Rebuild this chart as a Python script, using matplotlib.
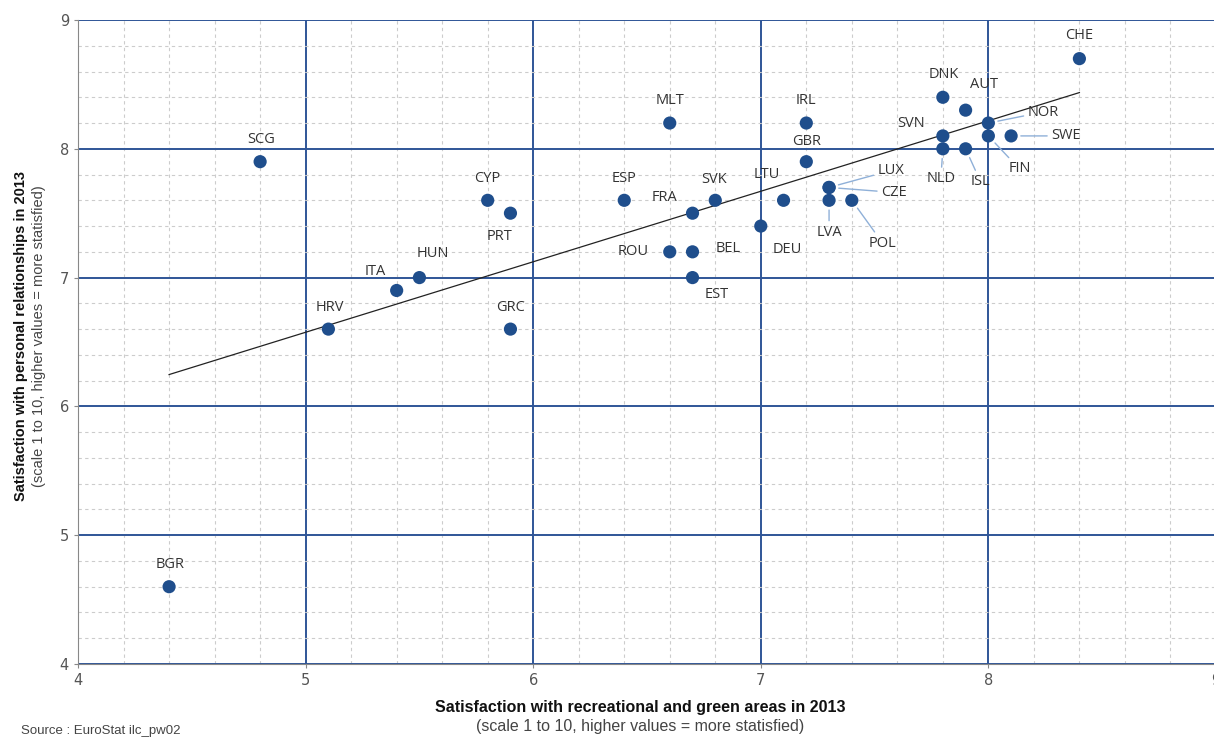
import matplotlib.pyplot as plt
import numpy as np

# satisfaction scores 2013 (recreational/green areas, personal relationships)
countries = ['CHE', 'DNK', 'AUT', 'NOR', 'SVN', 'FIN', 'SWE', 'NLD', 'ISL',
             'MLT', 'IRL', 'GBR', 'SCG', 'CYP', 'PRT', 'ESP', 'FRA', 'SVK',
             'LTU', 'LUX', 'CZE', 'LVA', 'POL', 'DEU', 'ROU', 'BEL', 'EST',
             'HUN', 'ITA', 'HRV', 'GRC', 'BGR']
green = [8.4, 7.8, 7.9, 8.0, 7.8, 8.0, 8.1, 7.8, 7.9,
         6.6, 7.2, 7.2, 4.8, 5.8, 5.9, 6.4, 6.7, 6.8,
         7.1, 7.3, 7.3, 7.3, 7.4, 7.0, 6.6, 6.7, 6.7,
         5.5, 5.4, 5.1, 5.9, 4.4]
relations = [8.7, 8.4, 8.3, 8.2, 8.1, 8.1, 8.1, 8.0, 8.0,
             8.2, 8.2, 7.9, 7.9, 7.6, 7.5, 7.6, 7.5, 7.6,
             7.6, 7.7, 7.7, 7.6, 7.6, 7.4, 7.2, 7.2, 7.0,
             7.0, 6.9, 6.6, 6.6, 4.6]

# label offsets in pixels (dx, dy), and whether a leader line is drawn
offsets = {
    'CHE': (0, 23), 'DNK': (1, 23), 'AUT': (18, 26), 'NOR': (55, 11),
    'SVN': (-32, 12), 'FIN': (31, -33), 'SWE': (55, 0), 'NLD': (-2, -30),
    'ISL': (15, -33), 'MLT': (0, 23), 'IRL': (0, 23), 'GBR': (0, 20),
    'SCG': (1, 22), 'CYP': (0, 22), 'PRT': (-11, -23), 'ESP': (0, 22),
    'FRA': (-28, 16), 'SVK': (-1, 21), 'LTU': (-17, 26), 'LUX': (62, 17),
    'CZE': (65, -5), 'LVA': (0, -32), 'POL': (31, -43), 'DEU': (27, -23),
    'ROU': (-37, 0), 'BEL': (36, 3), 'EST': (24, -17), 'HUN': (13, 24),
    'ITA': (-21, 19), 'HRV': (1, 22), 'GRC': (0, 22), 'BGR': (1, 22),
}
leaders = ['NOR', 'FIN', 'SWE', 'NLD', 'ISL', 'LUX', 'CZE', 'LVA', 'POL']

navy = '#1f4e8c'
grid_blue = '#2f5597'
text_c = '#333333'
font = ['Open Sans', 'DejaVu Sans']
narrow = ['Liberation Sans Narrow', 'Liberation Sans', 'DejaVu Sans']

fig = plt.figure(figsize=(12.14, 7.38), dpi=100)
ax = fig.add_axes([0.0643, 0.1003, 0.9373, 0.8726])

ax.set_xlim(4, 9)
ax.set_ylim(4, 9)
ax.set_xticks(np.arange(4, 10, 1))
ax.set_yticks(np.arange(4, 10, 1))
ax.set_xticks(np.arange(4, 9.01, 0.2), minor=True)
ax.set_yticks(np.arange(4, 9.01, 0.2), minor=True)
ax.grid(which='minor', color='#cccccc', linestyle=(0, (3, 3)), linewidth=0.8)
ax.grid(which='major', color=grid_blue, linestyle='-', linewidth=1.4)
ax.set_axisbelow(True)
ax.tick_params(which='minor', length=0)
ax.tick_params(which='major', length=3, color='#888888', labelcolor='#555555',
               labelsize=10.5)
for s in ['left', 'bottom']:
    ax.spines[s].set_color('#888888')
for s in ['top', 'right']:
    ax.spines[s].set_visible(False)

# trend line
k, b = np.polyfit(green, relations, 1)
xs = np.array([min(green), max(green)])
ax.plot(xs, k * xs + b, color='#222222', linewidth=0.9, zorder=2)

ax.scatter(green, relations, s=90, color=navy, zorder=3, edgecolors='none')

for c, x, y in zip(countries, green, relations):
    dx, dy = offsets[c]
    if c in leaders:
        ax.annotate(c, (x, y), xytext=(dx, dy), textcoords='offset pixels',
                    ha='center', va='center', fontsize=10.5, color=text_c,
                    family=font,
                    arrowprops=dict(arrowstyle='-', color='#8fb0d8', lw=1.0,
                                    shrinkA=1, shrinkB=7))
    else:
        ax.annotate(c, (x, y), xytext=(dx, dy), textcoords='offset pixels',
                    ha='center', va='center', fontsize=10.5, color=text_c,
                    family=font)

fig.text(0.527, 0.041, 'Satisfaction with recreational and green areas in 2013',
         ha='center', va='center', fontsize=11.5, fontweight='bold',
         color='#111111', family=narrow)
fig.text(0.527, 0.015, '(scale 1 to 10, higher values = more statisfied)',
         ha='center', va='center', fontsize=11.5, color='#444444', family=narrow)
fig.text(0.017, 0.545, 'Satisfaction with personal relationships in 2013',
         ha='center', va='center', rotation=90, fontsize=10.5,
         fontweight='bold', color='#111111', family=narrow)
fig.text(0.032, 0.545, '(scale 1 to 10, higher values = more statisfied)',
         ha='center', va='center', rotation=90, fontsize=10.5,
         color='#444444', family=narrow)
fig.text(0.017, 0.009, 'Source : EuroStat ilc_pw02', ha='left', va='center',
         fontsize=9.5, color='#444444', family=narrow)

fig.savefig('out.png', dpi=100)
